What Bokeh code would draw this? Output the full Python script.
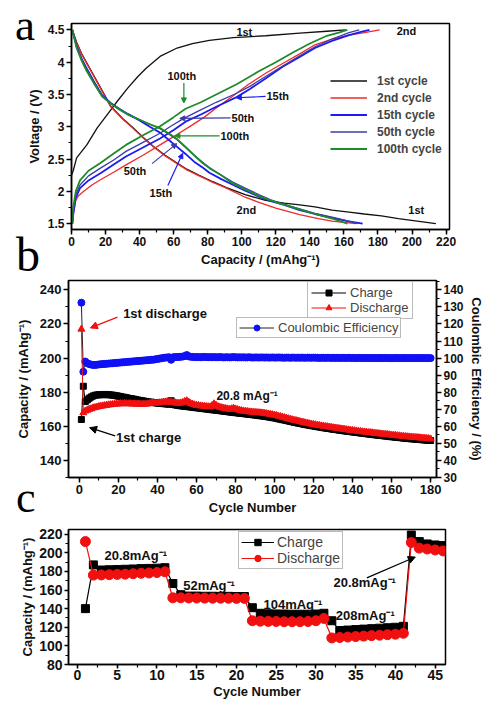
from bokeh.plotting import figure
from bokeh.layouts import column
from bokeh.models import (Range1d, LinearAxis, SingleIntervalTicker, Legend,
                          LegendItem, Label, Arrow, NormalHead, Div)
from bokeh.embed import file_html
from bokeh.resources import INLINE

SANS = "Liberation Sans"
SERIF = "Liberation Serif"

# ---------------- panel a : voltage profiles ----------------
c1_chg_cap = [0, 1, 3, 9, 15, 21, 27, 33, 39, 44, 52, 62, 71, 81, 95, 114, 134, 150, 161]
c1_chg_v = [2.25, 2.32, 2.52, 2.72, 2.98, 3.19, 3.40, 3.60, 3.78, 3.91, 4.09, 4.22, 4.29, 4.34, 4.38, 4.41, 4.45, 4.48, 4.50]
c1_dis_cap = [0.5, 3, 6, 10, 14, 18, 23, 30, 36, 42, 48, 55, 62, 68, 75, 83, 91, 102, 114, 125, 134, 143, 153, 163, 172, 182, 192, 203, 214]
c1_dis_v = [4.50, 4.31, 4.13, 3.94, 3.75, 3.56, 3.32, 3.13, 2.99, 2.84, 2.70, 2.56, 2.44, 2.34, 2.25, 2.15, 2.06, 1.95, 1.86, 1.82, 1.79, 1.76, 1.71, 1.68, 1.65, 1.62, 1.58, 1.54, 1.50]

c2_chg_cap = [0.5, 1, 2.3, 4, 7, 12, 17, 25, 32, 42, 52, 62, 71, 78, 85, 95, 104, 114, 124, 134, 143, 153, 163, 172, 181]
c2_chg_v = [1.50, 1.62, 1.85, 1.93, 2.00, 2.10, 2.18, 2.30, 2.41, 2.56, 2.72, 2.88, 3.03, 3.15, 3.29, 3.48, 3.66, 3.83, 3.98, 4.13, 4.27, 4.36, 4.42, 4.46, 4.50]
c2_dis_cap = [0.5, 3, 6, 10, 14, 18, 23, 30, 36, 42, 48, 55, 62, 68, 75, 83, 91, 102, 110, 120, 134, 145, 153, 160, 167]
c2_dis_v = [4.50, 4.30, 4.12, 3.93, 3.74, 3.55, 3.31, 3.12, 2.98, 2.83, 2.69, 2.55, 2.43, 2.33, 2.24, 2.14, 2.05, 1.91, 1.83, 1.74, 1.64, 1.58, 1.54, 1.52, 1.50]

c15_chg_cap = [0.5, 1, 2.5, 5, 10, 17, 25, 32, 42, 52, 60, 67, 76, 85, 97, 105, 114, 124, 134, 143, 153, 163, 170, 175]
c15_chg_v = [1.50, 1.65, 1.90, 2.05, 2.17, 2.28, 2.42, 2.54, 2.68, 2.82, 2.95, 3.08, 3.19, 3.31, 3.46, 3.59, 3.75, 3.93, 4.08, 4.22, 4.33, 4.42, 4.47, 4.50]
c15_dis_cap = [0.5, 3, 6, 9, 13, 18, 23, 28, 33, 40, 46, 52, 57, 62, 67, 72, 77, 81, 88, 95, 102, 110, 117, 125, 134, 143, 153, 162, 171]
c15_dis_v = [4.50, 4.25, 4.05, 3.90, 3.71, 3.49, 3.37, 3.28, 3.20, 3.10, 3.00, 2.91, 2.80, 2.69, 2.58, 2.46, 2.37, 2.29, 2.19, 2.10, 2.01, 1.92, 1.85, 1.79, 1.71, 1.65, 1.59, 1.54, 1.50]

c50_chg_cap = [0.5, 1, 2.5, 5, 10, 17, 25, 32, 42, 52, 59, 66, 75, 85, 97, 105, 114, 124, 134, 143, 153, 163, 169]
c50_chg_v = [1.50, 1.70, 1.95, 2.10, 2.24, 2.36, 2.49, 2.62, 2.76, 2.90, 3.02, 3.13, 3.25, 3.38, 3.52, 3.63, 3.78, 3.94, 4.10, 4.24, 4.36, 4.46, 4.50]
c50_dis_cap = [0.5, 3, 6, 9, 13, 18, 23, 28, 33, 40, 46, 52, 57, 62, 67, 72, 77, 81, 88, 95, 102, 110, 117, 125, 134, 143, 153, 161, 168]
c50_dis_v = [4.50, 4.24, 4.04, 3.88, 3.70, 3.48, 3.37, 3.28, 3.20, 3.11, 3.04, 2.97, 2.89, 2.80, 2.68, 2.56, 2.45, 2.37, 2.25, 2.14, 2.05, 1.95, 1.87, 1.80, 1.73, 1.66, 1.60, 1.55, 1.50]

c100_chg_cap = [0.5, 1, 2.5, 5, 10, 17, 25, 32, 42, 52, 60, 67, 76, 85, 97, 110, 120, 130, 140, 150, 157, 162]
c100_chg_v = [1.50, 1.75, 2.00, 2.17, 2.32, 2.44, 2.59, 2.72, 2.87, 3.01, 3.15, 3.28, 3.38, 3.50, 3.66, 3.86, 4.00, 4.15, 4.29, 4.41, 4.46, 4.50]
c100_dis_cap = [0.5, 3, 6, 9, 13, 18, 23, 28, 33, 40, 46, 52, 57, 62, 67, 72, 77, 81, 88, 95, 102, 110, 117, 125, 134, 143, 153, 162]
c100_dis_v = [4.50, 4.22, 4.02, 3.86, 3.68, 3.47, 3.36, 3.27, 3.19, 3.11, 3.04, 2.98, 2.90, 2.81, 2.69, 2.56, 2.44, 2.36, 2.25, 2.12, 2.03, 1.93, 1.86, 1.79, 1.72, 1.65, 1.58, 1.50]

cycle_names = ["1st cycle", "2nd cycle", "15th cycle", "50th cycle", "100th cycle"]

# ---------------- panel b : cycling at 20.8 mA/g ----------------
cycles_b = list(range(1, 181))
charge_b = [164.0, 183.5, 174.5, 175.5, 176.5, 177.2, 177.8, 178.2, 178.4, 178.5,
            178.6, 178.5, 178.7, 178.6, 178.5, 178.4, 178.3, 178.1, 177.9, 177.7,
            177.5, 177.2, 177.0, 176.8, 176.5, 176.3, 176.1, 175.9, 175.6, 175.4,
            175.2, 175.0, 174.8, 174.6, 174.4, 174.2, 174.1, 173.9, 173.8, 173.6,
            173.5, 173.4, 173.3, 173.2, 173.1, 173.0, 175.0, 172.8, 172.6, 172.4,
            172.2, 172.0, 171.9, 171.7, 171.6, 171.5, 171.3, 171.2, 171.0, 170.9,
            170.8, 170.6, 170.5, 170.3, 170.2, 170.0, 169.9, 169.7, 169.6, 169.5,
            169.3, 169.2, 169.0, 168.9, 168.7, 168.6, 168.4, 168.3, 168.2, 168.0,
            167.9, 167.7, 167.6, 167.5, 167.3, 167.2, 167.0, 166.9, 166.8, 166.6,
            166.5, 166.3, 166.2, 166.0, 165.9, 165.7, 165.5, 165.3, 165.1, 164.9,
            164.7, 164.4, 164.2, 163.9, 163.7, 163.4, 163.2, 162.9, 162.7, 162.4,
            162.2, 161.9, 161.7, 161.5, 161.2, 161.0, 160.8, 160.6, 160.4, 160.2,
            160.0, 159.8, 159.6, 159.4, 159.2, 159.0, 158.9, 158.7, 158.5, 158.3,
            158.2, 158.0, 157.8, 157.7, 157.5, 157.3, 157.2, 157.0, 156.9, 156.7,
            156.6, 156.4, 156.3, 156.1, 156.0, 155.8, 155.7, 155.5, 155.4, 155.3,
            155.1, 155.0, 154.8, 154.7, 154.6, 154.4, 154.3, 154.2, 154.0, 153.9,
            153.8, 153.6, 153.5, 153.4, 153.3, 153.1, 153.0, 152.9, 152.8, 152.7,
            152.6, 152.5, 152.4, 152.3, 152.2, 152.1, 152.0, 151.9, 151.8, 151.7]
discharge_b = [217.0, 168.0, 169.0, 169.5, 170.0, 170.3, 170.8, 171.0, 171.3, 171.6,
               171.8, 172.0, 172.2, 172.4, 172.6, 172.7, 172.8, 173.0, 173.1, 173.2,
               173.3, 173.2, 173.4, 173.3, 173.2, 173.3, 173.1, 173.2, 173.0, 173.1,
               173.0, 172.9, 173.1, 173.0, 173.2, 173.4, 174.0, 173.8, 173.6, 173.7,
               173.8, 174.0, 174.2, 174.3, 174.5, 174.3, 174.1, 174.0, 173.8, 173.6,
               173.5, 173.7, 174.0, 174.6, 175.0, 174.2, 173.4, 173.0, 172.6, 172.3,
               172.2, 172.0, 171.9, 171.7, 171.6, 171.5, 171.4, 172.2, 173.2, 172.4,
               171.6, 171.2, 170.9, 170.6, 170.4, 170.2, 170.0, 170.3, 170.6, 170.2,
               169.8, 169.5, 169.2, 169.0, 168.8, 168.7, 168.5, 168.4, 168.3, 168.2,
               168.1, 168.0, 167.9, 167.8, 167.6, 167.4, 167.2, 167.0, 166.8, 166.6,
               166.3, 166.0, 165.7, 165.4, 165.1, 164.8, 164.5, 164.2, 163.9, 163.6,
               163.4, 163.1, 162.8, 162.5, 162.3, 162.0, 161.8, 161.5, 161.3, 161.1,
               160.9, 160.7, 160.5, 160.3, 160.1, 159.9, 159.8, 159.6, 159.4, 159.2,
               159.0, 158.9, 158.7, 158.5, 158.4, 158.2, 158.0, 157.9, 157.7, 157.6,
               157.4, 157.3, 157.1, 157.0, 156.8, 156.7, 156.6, 156.4, 156.3, 156.2,
               156.0, 155.9, 155.8, 155.6, 155.5, 155.4, 155.3, 155.2, 155.0, 154.9,
               154.8, 154.7, 154.5, 154.4, 154.3, 154.1, 154.0, 153.9, 153.8, 153.7,
               153.6, 153.5, 153.4, 153.3, 153.2, 153.1, 153.0, 152.9, 152.8, 152.6]
ce_b = [132.5, 92.0, 98.0, 97.0, 96.5, 96.2, 96.0, 96.0, 96.1, 96.3,
        96.4, 96.5, 96.6, 96.7, 96.8, 96.9, 97.0, 97.1, 97.2, 97.3,
        97.4, 97.5, 97.6, 97.7, 97.8, 97.9, 98.0, 98.1, 98.2, 98.3,
        98.4, 98.5, 98.6, 98.7, 98.8, 98.9, 99.0, 99.1, 99.3, 99.5,
        99.7, 99.9, 100.1, 100.3, 100.4, 100.5, 99.0, 100.5, 100.6, 100.6,
        100.7, 100.8, 100.9, 101.2, 101.8, 101.0, 100.8, 100.7, 100.6, 100.6,
        100.6, 100.5, 100.6, 100.7, 100.6, 100.5, 100.6, 100.5, 100.6, 100.5,
        100.5, 100.6, 100.5, 100.4, 100.5, 100.5, 100.4, 100.5, 100.6, 100.5,
        100.4, 100.5, 100.4, 100.5, 100.4, 100.4, 100.5, 100.4, 100.3, 100.4,
        100.4, 100.3, 100.4, 100.4, 100.3, 100.4, 100.3, 100.3, 100.4, 100.3,
        100.3, 100.4, 100.3, 100.3, 100.2, 100.3, 100.3, 100.2, 100.3, 100.3,
        100.2, 100.3, 100.2, 100.3, 100.2, 100.2, 100.3, 100.2, 100.2, 100.3,
        100.2, 100.2, 100.1, 100.2, 100.2, 100.1, 100.2, 100.2, 100.1, 100.2,
        100.1, 100.2, 100.1, 100.1, 100.2, 100.1, 100.1, 100.2, 100.1, 100.1,
        100.1, 100.0, 100.1, 100.1, 100.0, 100.1, 100.1, 100.0, 100.1, 100.0,
        100.1, 100.0, 100.0, 100.1, 100.0, 100.0, 100.1, 100.0, 100.0, 100.0,
        100.0, 100.1, 100.0, 100.0, 100.0, 100.1, 100.0, 100.0, 100.0, 100.0,
        100.0, 100.0, 100.0, 100.1, 100.0, 100.0, 100.0, 100.0, 100.0, 100.0]

# ---------------- panel c : rate capability ----------------
cycles_c = list(range(1, 47))
charge_c = [140, 187, 181.5, 181.8, 182, 182.3, 182.6, 183, 183.2, 183.5, 184,
            167, 155, 153.5, 153.5, 153.3, 153.3, 153.2, 153.2, 153, 153,
            141, 135, 134.5, 134.3, 134.2, 134, 134, 134, 134.2, 135,
            127, 116.5, 117, 117.5, 118, 118.5, 119, 119.5, 120, 121,
            219, 212, 209.5, 208.4, 207.7]
discharge_c = [212, 176, 176.2, 176.5, 176.8, 177, 177.5, 178, 178.3, 178.8, 179.6,
               151.6, 151.6, 151.5, 151.4, 151.3, 151.2, 151.2, 151.1, 151, 151,
               127, 126.5, 126.3, 126.2, 126, 126, 126, 126.2, 127, 129.5,
               108.5, 109, 109.5, 110, 110.5, 111, 111.5, 112, 112.5, 113.5,
               211, 205, 204, 203, 202]


def style(p, tick_size, title_size, tick_out=5, title_standoff=3):
    p.grid.visible = False
    p.outline_line_color = "black"
    p.outline_line_width = 1.5
    p.background_fill_color = "white"
    p.border_fill_color = "white"
    for ax in p.axis:
        ax.axis_line_width = 1.5
        ax.major_tick_in = 0
        ax.major_tick_out = tick_out
        ax.minor_tick_in = 0
        ax.minor_tick_out = 3
        ax.major_tick_line_width = 1.5
        ax.minor_tick_line_width = 1.2
        ax.major_label_text_font = SANS
        ax.major_label_text_font_style = "bold"
        ax.major_label_text_font_size = tick_size
        ax.major_label_text_color = "#111111"
        ax.axis_label_text_font = SANS
        ax.axis_label_text_font_style = "bold"
        ax.axis_label_text_font_size = title_size
        ax.axis_label_text_color = "#111111"
        ax.major_label_standoff = 2
        ax.axis_label_standoff = title_standoff


def txt(p, x, y, s, size, color="#111111", align="left", bold=True):
    p.add_layout(Label(x=x, y=y, text=s, text_font=SANS, text_font_size=size,
                       text_font_style="bold" if bold else "normal",
                       text_color=color, text_align=align, text_baseline="middle"))


def arrow(p, x0, y0, x1, y1, color, size=6, width=1.2):
    p.add_layout(Arrow(end=NormalHead(size=size, fill_color=color, line_color=color, line_width=1),
                       x_start=x0, y_start=y0, x_end=x1, y_end=y1,
                       line_color=color, line_width=width))


def letter(s, left, top, size):
    return Div(text=s, styles={"position": "absolute", "left": f"{left}px", "top": f"{top}px",
                               "font-family": SERIF, "font-size": f"{size}px",
                               "line-height": "0.6", "color": "black", "z-index": "5"})


# ================= figure a =================
pa = figure(width=486, height=276, x_range=Range1d(0, 222), y_range=Range1d(1.41, 4.6),
            output_backend="svg", toolbar_location=None, frame_align=False,
            min_border_left=71, min_border_right=37, min_border_top=23, min_border_bottom=47)
pa.xaxis.ticker = SingleIntervalTicker(interval=20, num_minor_ticks=2)
pa.yaxis.ticker = SingleIntervalTicker(interval=0.5, num_minor_ticks=2)
pa.xaxis.axis_label = "Capacity / (mAhg⁻¹)"
pa.yaxis.axis_label = "Voltage / (V)"
style(pa, "12px", "13px")

colors_a = ["#111111", "#ee2a2a", "#1c1cf0", "#3c3ca6", "#1f8a2a"]
widths_a = [1.3, 1.3, 1.8, 1.3, 1.8]
curves = [(c1_chg_cap, c1_chg_v, c1_dis_cap, c1_dis_v),
          (c2_chg_cap, c2_chg_v, c2_dis_cap, c2_dis_v),
          (c15_chg_cap, c15_chg_v, c15_dis_cap, c15_dis_v),
          (c50_chg_cap, c50_chg_v, c50_dis_cap, c50_dis_v),
          (c100_chg_cap, c100_chg_v, c100_dis_cap, c100_dis_v)]
items_a = []
for (cx, cy, dx, dy), col, w, name in zip(curves, colors_a, widths_a, cycle_names):
    r = pa.line(cx, cy, line_color=col, line_width=w)
    pa.line(dx, dy, line_color=col, line_width=w)
    items_a.append(LegendItem(label=name, renderers=[r]))
leg_a = Legend(items=items_a, location=(259, 72), padding=0, margin=0, spacing=0,
               glyph_width=37, glyph_height=17, label_height=17, label_standoff=10,
               label_text_font=SANS, label_text_font_style="bold", label_text_font_size="12px",
               border_line_alpha=0, background_fill_alpha=0)
pa.add_layout(leg_a)

txt(pa, 101.5, 4.47, "1st", "11px", align="center")
txt(pa, 191, 4.49, "2nd", "11px", align="left")
txt(pa, 64.8, 3.79, "100th", "11px", align="center")
arrow(pa, 66, 3.68, 66, 3.37, "#1f8a2a", size=5)
txt(pa, 114.5, 3.47, "15th", "11px")
arrow(pa, 114, 3.47, 96.8, 3.45, "#1c1cf0", size=5)
txt(pa, 94, 3.14, "50th", "11px")
arrow(pa, 93.4, 3.14, 63.6, 3.13, "#3c3ca6", size=5)
txt(pa, 87.5, 2.86, "100th", "11px")
arrow(pa, 87, 2.86, 60.7, 2.86, "#1f8a2a", size=5)
txt(pa, 37.3, 2.32, "50th", "11px", align="center")
arrow(pa, 47.3, 2.43, 61.8, 2.74, "#3c3ca6", size=5)
txt(pa, 52.5, 1.97, "15th", "11px", align="center")
arrow(pa, 56.6, 2.09, 65.3, 2.59, "#1c1cf0", size=5)
txt(pa, 102.7, 1.71, "2nd", "11px", align="center")
txt(pa, 202.5, 1.71, "1st", "11px", align="center")

# ================= figure b =================
pb = figure(width=486, height=245, x_range=Range1d(-5.6, 183), y_range=Range1d(130, 245.5),
            output_backend="svg", toolbar_location=None, frame_align=False,
            min_border_left=68, min_border_right=47, min_border_top=4, min_border_bottom=44)
pb.extra_y_ranges = {"ce": Range1d(30, 145.5)}
pb.add_layout(LinearAxis(y_range_name="ce", axis_label="Coulombic Efficiency / (%)",
                         ticker=SingleIntervalTicker(interval=10, num_minor_ticks=2)), "right")
pb.xaxis.ticker = SingleIntervalTicker(interval=20, num_minor_ticks=2)
pb.yaxis[0].ticker = SingleIntervalTicker(interval=20, num_minor_ticks=2)
pb.xaxis.axis_label = "Cycle Number"
pb.yaxis[0].axis_label = "Capacity / (mAhg⁻¹)"
style(pb, "13px", "13px")
pb.yaxis[0].axis_label_standoff = 6
pb.yaxis[1].major_label_text_font_size = "12px"
pb.yaxis[1].axis_label_standoff = 2

ce_line = pb.line(cycles_b, ce_b, y_range_name="ce", line_color="#222222", line_width=1)
ce_pts = pb.scatter(cycles_b, ce_b, y_range_name="ce", marker="circle", size=7,
                    fill_color="#1010f5", line_color="#1010f5")
ch_line = pb.line(cycles_b, charge_b, line_color="black", line_width=1)
ch_pts = pb.scatter(cycles_b, charge_b, marker="square", size=6, fill_color="black", line_color="black")
dc_line = pb.line(cycles_b, discharge_b, line_color="#f01010", line_width=1)
dc_pts = pb.scatter(cycles_b, discharge_b, marker="triangle", size=7, fill_color="#f01010", line_color="#f01010")

leg_b1 = Legend(items=[LegendItem(label="Charge", renderers=[ch_line, ch_pts]),
                       LegendItem(label="Discharge", renderers=[dc_line, dc_pts])],
                location=(239, 158), padding=3, margin=0, spacing=0,
                glyph_width=35, glyph_height=15, label_height=15, label_standoff=4,
                label_text_font=SANS, label_text_font_size="13px",
                border_line_color="#777777", border_line_width=1, background_fill_color="white")
leg_b2 = Legend(items=[LegendItem(label="Coulombic Efficiency", renderers=[ce_line, ce_pts])],
                location=(168, 139), padding=2, margin=0, spacing=0,
                glyph_width=35, glyph_height=15, label_height=15, label_standoff=4,
                label_text_font=SANS, label_text_font_size="13px",
                border_line_color="#777777", border_line_width=1, background_fill_color="white")
pb.add_layout(leg_b1)
pb.add_layout(leg_b2)

txt(pb, 22.4, 226.3, "1st discharge", "13px")
arrow(pb, 19.5, 224.0, 5.6, 217.7, "#f01010", size=7)
txt(pb, 18.8, 153.4, "1st charge", "13px")
arrow(pb, 18.3, 154.4, 5.2, 159.2, "black", size=7)
txt(pb, 70.2, 177.8, "20.8 mAg⁻¹", "12px")

# ================= figure c =================
pc = figure(width=486, height=180, x_range=Range1d(-1.13, 46.3), y_range=Range1d(80, 225),
            output_backend="svg", toolbar_location=None, frame_align=False,
            min_border_left=68, min_border_right=41, min_border_top=8, min_border_bottom=36)
pc.xaxis.ticker = SingleIntervalTicker(interval=5, num_minor_ticks=2)
pc.yaxis.ticker = SingleIntervalTicker(interval=20, num_minor_ticks=2)
pc.xaxis.axis_label = "Cycle Number"
pc.yaxis.axis_label = "Capacity / (mAhg⁻¹)"
style(pc, "14px", "13px", tick_out=4, title_standoff=1)
pc.xaxis.major_label_standoff = 1

cc_line = pc.line(cycles_c, charge_c, line_color="black", line_width=1.2)
cc_pts = pc.scatter(cycles_c, charge_c, marker="square", size=8, fill_color="black", line_color="black")
dd_line = pc.line(cycles_c, discharge_c, line_color="#f01010", line_width=1.2)
dd_pts = pc.scatter(cycles_c, discharge_c, marker="circle", size=10, fill_color="#f01010", line_color="#f01010")

leg_c = Legend(items=[LegendItem(label="Charge", renderers=[cc_line, cc_pts]),
                      LegendItem(label="Discharge", renderers=[dd_line, dd_pts])],
               location=(170, 95), padding=2, margin=0, spacing=0,
               glyph_width=33, glyph_height=16, label_height=16, label_standoff=3,
               label_text_font=SANS, label_text_font_size="14px",
               border_line_color="#777777", border_line_width=1, background_fill_color="white")
pc.add_layout(leg_c)

txt(pc, 3.4, 197.6, "20.8mAg⁻¹", "13px")
txt(pc, 13.3, 164.5, "52mAg⁻¹", "13px")
txt(pc, 23.4, 144.3, "104mAg⁻¹", "13px")
txt(pc, 32.5, 132.5, "208mAg⁻¹", "13px")
txt(pc, 32.2, 167.7, "20.8mAg⁻¹", "13px")
arrow(pc, 36.4, 173, 42.5, 195.4, "black", size=7)

div_a = letter("a", 10, 7, 45)
div_b = letter("b", 11, 236, 48)
div_c = letter("c", 11, 480, 44)

layout = column(pa, pb, pc, div_a, div_b, div_c, spacing=0)
open("out.html", "w").write(file_html(layout, INLINE))
